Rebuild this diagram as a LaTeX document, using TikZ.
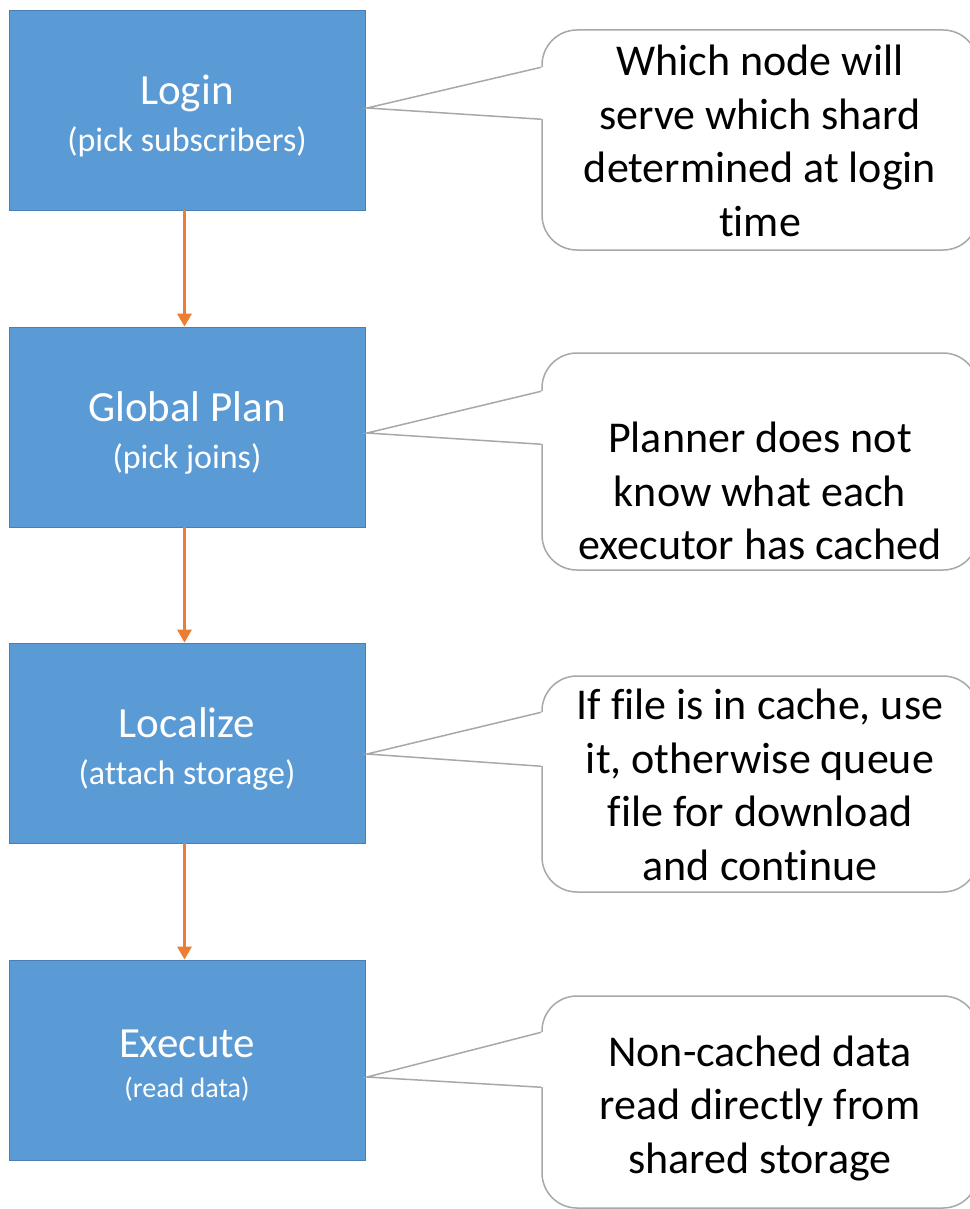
\documentclass[tikz,border=0pt]{standalone}
\usepackage{fontspec}
\setmainfont{Carlito}[Ligatures={NoCommon}]
\usetikzlibrary{arrows.meta}
\definecolor{boxblue}{RGB}{91,155,213}
\definecolor{boxedge}{RGB}{72,128,182}
\definecolor{flow}{RGB}{237,125,49}
\definecolor{cgray}{RGB}{168,168,168}
\begin{document}
\begin{tikzpicture}[x=1pt,y=-1pt,
  stage/.style={draw=boxedge, line width=0.8pt, fill=boxblue, minimum width=356pt, minimum height=200pt, inner sep=0pt},
  stagetext/.style={text=white, align=center, inner sep=0pt, font=\fontsize{34}{47}\selectfont},
  cbox/.style={draw=cgray, line width=1.5pt, fill=white, rounded corners=35pt, minimum width=436pt, inner sep=0pt},
  ctext/.style={align=center, text=black, font=\fontsize{44}{53.5}\selectfont, inner sep=0pt},
  cline/.style={draw=cgray, line width=1.5pt, line join=miter},
  flowarrow/.style={draw=flow, line width=3pt, -{Triangle[width=14pt,length=13pt]}}]

\fill[white] (0,0) rectangle (969,1209);
\useasboundingbox (0,0) rectangle (969,1209);

% process boxes
\node[stage] (login) at (187,110) {};
\node[stage] (plan) at (187,427) {};
\node[stage] (local) at (187,743) {};
\node[stage] (exec) at (187,1060) {};
\node[stagetext] (logintxt) at ([yshift=-6pt]login.center) {{\fontsize{43}{47}\selectfont Login}\\(pick subscribers)};
\node[stagetext] (plantxt) at ([yshift=-6pt]plan.center) {{\fontsize{43}{47}\selectfont Global Plan}\\(pick joins)};
\node[stagetext] (localtxt) at ([yshift=-6pt]local.center) {{\fontsize{43}{47}\selectfont Localize}\\(attach storage)};
\node[stagetext, font=\fontsize{28}{40}\selectfont] (exectxt) at ([yshift=-6pt]exec.center) {{\fontsize{43}{40}\selectfont Execute}\\(read data)};

% flow arrows
\draw[flowarrow] ([xshift=-2.5pt]login.south) -- ([xshift=-2.5pt]plan.north);
\draw[flowarrow] ([xshift=-2.5pt]plan.south) -- ([xshift=-2.5pt]local.north);
\draw[flowarrow] ([xshift=-2.5pt]local.south) -- ([xshift=-2.5pt]exec.north);

% callout 1
\node[cbox, minimum height=220pt] (c1) at (760,140) {};
\coordinate (t1) at (367,108);
\fill[white] ([xshift=-2pt,yshift=-38pt]c1.north west) rectangle ([xshift=2pt,yshift=-90pt]c1.north west);
\draw[cline] ([yshift=-38pt]c1.north west) -- (t1) -- ([yshift=-90pt]c1.north west);
\node[ctext] (c1t) at (760,141) {Which node will\\serve which shard\\determined at login\\time};

% callout 2
\node[cbox, minimum height=217pt] (c2) at (760,461.5) {};
\coordinate (t2) at (367,433);
\fill[white] ([xshift=-2pt,yshift=-39pt]c2.north west) rectangle ([xshift=2pt,yshift=-92pt]c2.north west);
\draw[cline] ([yshift=-39pt]c2.north west) -- (t2) -- ([yshift=-92pt]c2.north west);
\node[ctext] (c2t) at (760,491) {Planner does not\\know what each\\executor has cached};

% callout 3
\node[cbox, minimum height=216pt] (c3) at (760,784) {};
\coordinate (t3) at (367,754);
\fill[white] ([xshift=-2pt,yshift=-37pt]c3.north west) rectangle ([xshift=2pt,yshift=-91pt]c3.north west);
\draw[cline] ([yshift=-37pt]c3.north west) -- (t3) -- ([yshift=-91pt]c3.north west);
\node[ctext] (c3t) at (760,785) {If file is in cache, use\\it, otherwise queue\\file for download\\and continue};

% callout 4
\node[cbox, minimum height=212pt] (c4) at (760,1102) {};
\coordinate (t4) at (367,1077);
\fill[white] ([xshift=-2pt,yshift=-37pt]c4.north west) rectangle ([xshift=2pt,yshift=-92pt]c4.north west);
\draw[cline] ([yshift=-37pt]c4.north west) -- (t4) -- ([yshift=-92pt]c4.north west);
\node[ctext] (c4t) at (760,1108) {Non-cached data\\read directly from\\shared storage};
\end{tikzpicture}
\end{document}
